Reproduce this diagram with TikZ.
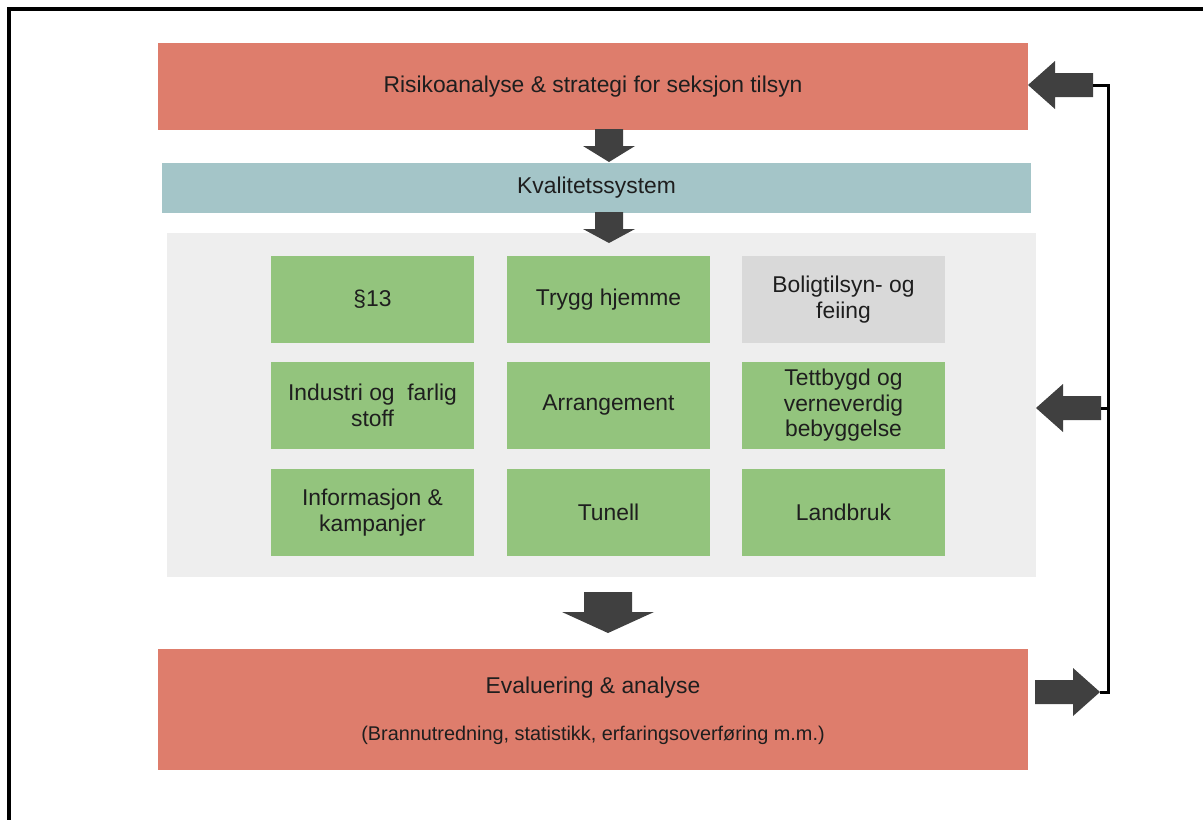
\documentclass[tikz,border=0pt]{standalone}
\usepackage{fontspec}
\setmainfont{Liberation Sans}
\usepackage{tikz}
\usetikzlibrary{calc}
\usepackage{xcolor}
\definecolor{cRed}{RGB}{222,125,108}
\definecolor{cKval}{RGB}{164,197,200}
\definecolor{cPanel}{RGB}{238,238,238}
\definecolor{cGreen}{RGB}{147,196,125}
\definecolor{cGrey}{RGB}{217,217,217}
\definecolor{cArrow}{RGB}{64,64,64}
\definecolor{cText}{RGB}{30,30,30}

\begin{document}
\begin{tikzpicture}[
    x=0.02cm, y=-0.02cm,
    redbox/.style={rectangle,fill=cRed,minimum width=17.4cm,text=cText,font=\fontsize{13}{15}\selectfont},
    task/.style={rectangle,fill=cGreen,minimum width=4.06cm,minimum height=1.74cm,align=center,text=cText,font=\fontsize{13}{14.5}\selectfont},
    fbline/.style={line width=0.06cm,black},
    pics/downarrow/.style args={#1/#2/#3/#4}{code={
      \fill[cArrow] (-#1,0) -- (#1,0) -- (#1,#3) -- (#2,#3) -- (0,#4) -- (-#2,#3) -- (-#1,#3) -- cycle;
    }},
    pics/sidearrow/.style={code={
      \fill[cArrow] (0,0) -- (27,-24) -- (27,-12) -- (65,-12) -- (65,12) -- (27,12) -- (27,24) -- cycle;
      \coordinate (-tip) at (0,0);
      \coordinate (-tail) at (65,0);
    }}
  ]
  \useasboundingbox (0,0) rectangle (1203,819);
  % Frame
  \draw[line width=0.08cm,line cap=rect] (9,819) -- (9,9) -- (1203,9);
  % Boxes
  \node[redbox,minimum height=1.74cm] (risk) at (593,86.5) {Risikoanalyse \& strategi for seksjon tilsyn};
  \node[rectangle,fill=cKval,minimum width=17.38cm,minimum height=1cm,text=cText,font=\fontsize{13}{15}\selectfont] (kval) at (596.5,188) {Kvalitetssystem};
  \node[rectangle,fill=cPanel,minimum width=17.38cm,minimum height=6.88cm] (panel) at (601.5,405) {};
  % Tasks
  \foreach \n/\x/\y/\t in {
      p13/372.5/299.5/{§13},
      trygg/608.5/299.5/{Trygg hjemme},
      indu/372.5/405.5/{Industri og~ farlig\\stoff},
      arr/608.5/405.5/{Arrangement},
      tett/843.5/405.5/{Tettbygd og\\verneverdig\\bebyggelse},
      info/372.5/512.5/{Informasjon \&\\kampanjer},
      tun/608.5/512.5/{Tunell},
      land/843.5/512.5/{Landbruk}} {
    \node[task] (\n) at (\x,\y) {\t};
  }
  \node[task,fill=cGrey] (bolig) at (843.5,299.5) {Boligtilsyn- og\\feiing};
  % Evaluation
  \node[redbox,minimum height=2.42cm] (eval) at (593,709.5) {};
  \node[text=cText,font=\fontsize{13}{15}\selectfont] (evalT) at (593,688) {Evaluering \& analyse};
  \node[text=cText,font=\fontsize{11.3}{13}\selectfont] (evalS) at (593,735) {(Brannutredning, statistikk, erfaringsoverføring m.m.)};
  % Flow arrows
  \pic at (609,129) {downarrow=14/26/17/33};
  \pic at (609,212) {downarrow=14/26/17/31};
  \pic at (608,592) {downarrow=24/46/20/41};
  % Feedback
  \pic (rArr) at (1028,85) {sidearrow};
  \pic (mArr) at (1036,408) {sidearrow};
  \pic[rotate=180] (eArr) at (1100,692) {sidearrow};
  \coordinate (fbx) at (1108,0);
  \draw[fbline] (eArr-tip) -| (fbx |- rArr-tail) -- (rArr-tail);
  \draw[fbline] (mArr-tail) -- (fbx |- mArr-tail);
\end{tikzpicture}
\end{document}
